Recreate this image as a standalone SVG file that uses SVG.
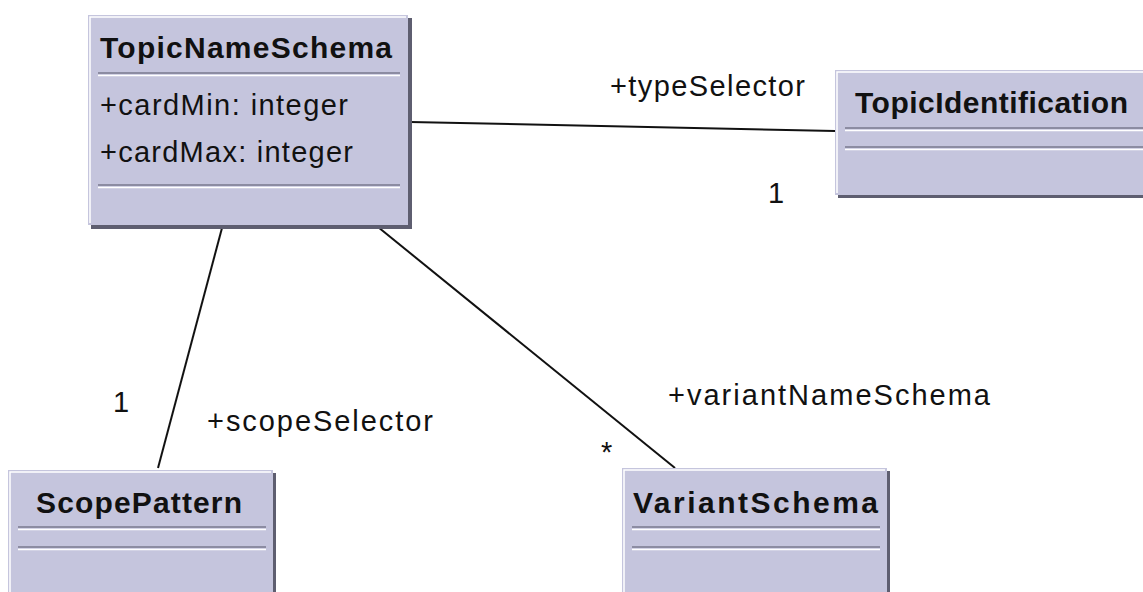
<svg xmlns="http://www.w3.org/2000/svg" width="1143" height="592" viewBox="0 0 1143 592">
<style>
.box{fill:#C5C5DD}
.shadow{fill:#5E5E70}
.hl{stroke:#FFFFFF;stroke-width:1.5;fill:none}
.sepd{stroke:#8C8CA2;stroke-width:2}
.sepl{stroke:#FFFFFF;stroke-width:1.5}
.title{font-family:"Liberation Sans",Arial,sans-serif;font-weight:bold;font-size:30px;fill:#111}
.txt{font-family:"Liberation Sans",Arial,sans-serif;font-size:29px;fill:#111}
.conn{stroke:#111;stroke-width:2;fill:none}
</style>
<rect width="1143" height="592" fill="#FFFFFF"/>
<g id="connectors">
<line class="conn" x1="410" y1="122" x2="835" y2="131"/>
<line class="conn" x1="222" y1="228" x2="158" y2="468"/>
<line class="conn" x1="378" y1="227" x2="675" y2="468"/>
<text class="txt" x="610" y="96" textLength="195" lengthAdjust="spacing">+typeSelector</text>
<text class="txt" x="768" y="203">1</text>
<text class="txt" x="113" y="412">1</text>
<text class="txt" x="207" y="431" textLength="226" lengthAdjust="spacing">+scopeSelector</text>
<text class="txt" x="601" y="462">*</text>
<text class="txt" x="668" y="405" textLength="322" lengthAdjust="spacing">+variantNameSchema</text>
</g>
<g id="TopicNameSchema">
<rect class="shadow" x="91" y="18" width="321" height="211"/>
<rect class="box" x="88" y="15" width="320" height="210"/>
<polyline class="hl" points="90,223 90,17 406,17"/>
<text class="title" x="100" y="58" textLength="292" lengthAdjust="spacing">TopicNameSchema</text>
<line class="sepd" x1="98" y1="73" x2="400" y2="73"/><line class="sepl" x1="98" y1="75.5" x2="400" y2="75.5"/>
<text class="txt" x="100" y="115" textLength="248" lengthAdjust="spacing">+cardMin: integer</text>
<text class="txt" x="100" y="162" textLength="253" lengthAdjust="spacing">+cardMax: integer</text>
<line class="sepd" x1="98" y1="185" x2="400" y2="185"/><line class="sepl" x1="98" y1="187.5" x2="400" y2="187.5"/>
</g>
<g id="TopicIdentification">
<rect class="shadow" x="838" y="73" width="320" height="125"/>
<rect class="box" x="835" y="70" width="320" height="125"/>
<polyline class="hl" points="837,193 837,72 1143,72"/>
<text class="title" x="855" y="113" textLength="273" lengthAdjust="spacing">TopicIdentification</text>
<line class="sepd" x1="845" y1="128" x2="1143" y2="128"/><line class="sepl" x1="845" y1="130.5" x2="1143" y2="130.5"/>
<line class="sepd" x1="845" y1="147" x2="1143" y2="147"/><line class="sepl" x1="845" y1="149.5" x2="1143" y2="149.5"/>
</g>
<g id="ScopePattern">
<rect class="shadow" x="11" y="473" width="265" height="130"/>
<rect class="box" x="8" y="470" width="265" height="130"/>
<polyline class="hl" points="10,600 10,472 271,472"/>
<text class="title" x="36" y="513" textLength="206" lengthAdjust="spacing">ScopePattern</text>
<line class="sepd" x1="18" y1="527" x2="266" y2="527"/><line class="sepl" x1="18" y1="529.5" x2="266" y2="529.5"/>
<line class="sepd" x1="18" y1="547" x2="266" y2="547"/><line class="sepl" x1="18" y1="549.5" x2="266" y2="549.5"/>
</g>
<g id="VariantSchema">
<rect class="shadow" x="625" y="471" width="265" height="130"/>
<rect class="box" x="622" y="468" width="265" height="130"/>
<polyline class="hl" points="624,600 624,470 885,470"/>
<text class="title" x="633" y="513" textLength="245" lengthAdjust="spacing">VariantSchema</text>
<line class="sepd" x1="632" y1="527" x2="880" y2="527"/><line class="sepl" x1="632" y1="529.5" x2="880" y2="529.5"/>
<line class="sepd" x1="632" y1="547" x2="880" y2="547"/><line class="sepl" x1="632" y1="549.5" x2="880" y2="549.5"/>
</g>
</svg>
